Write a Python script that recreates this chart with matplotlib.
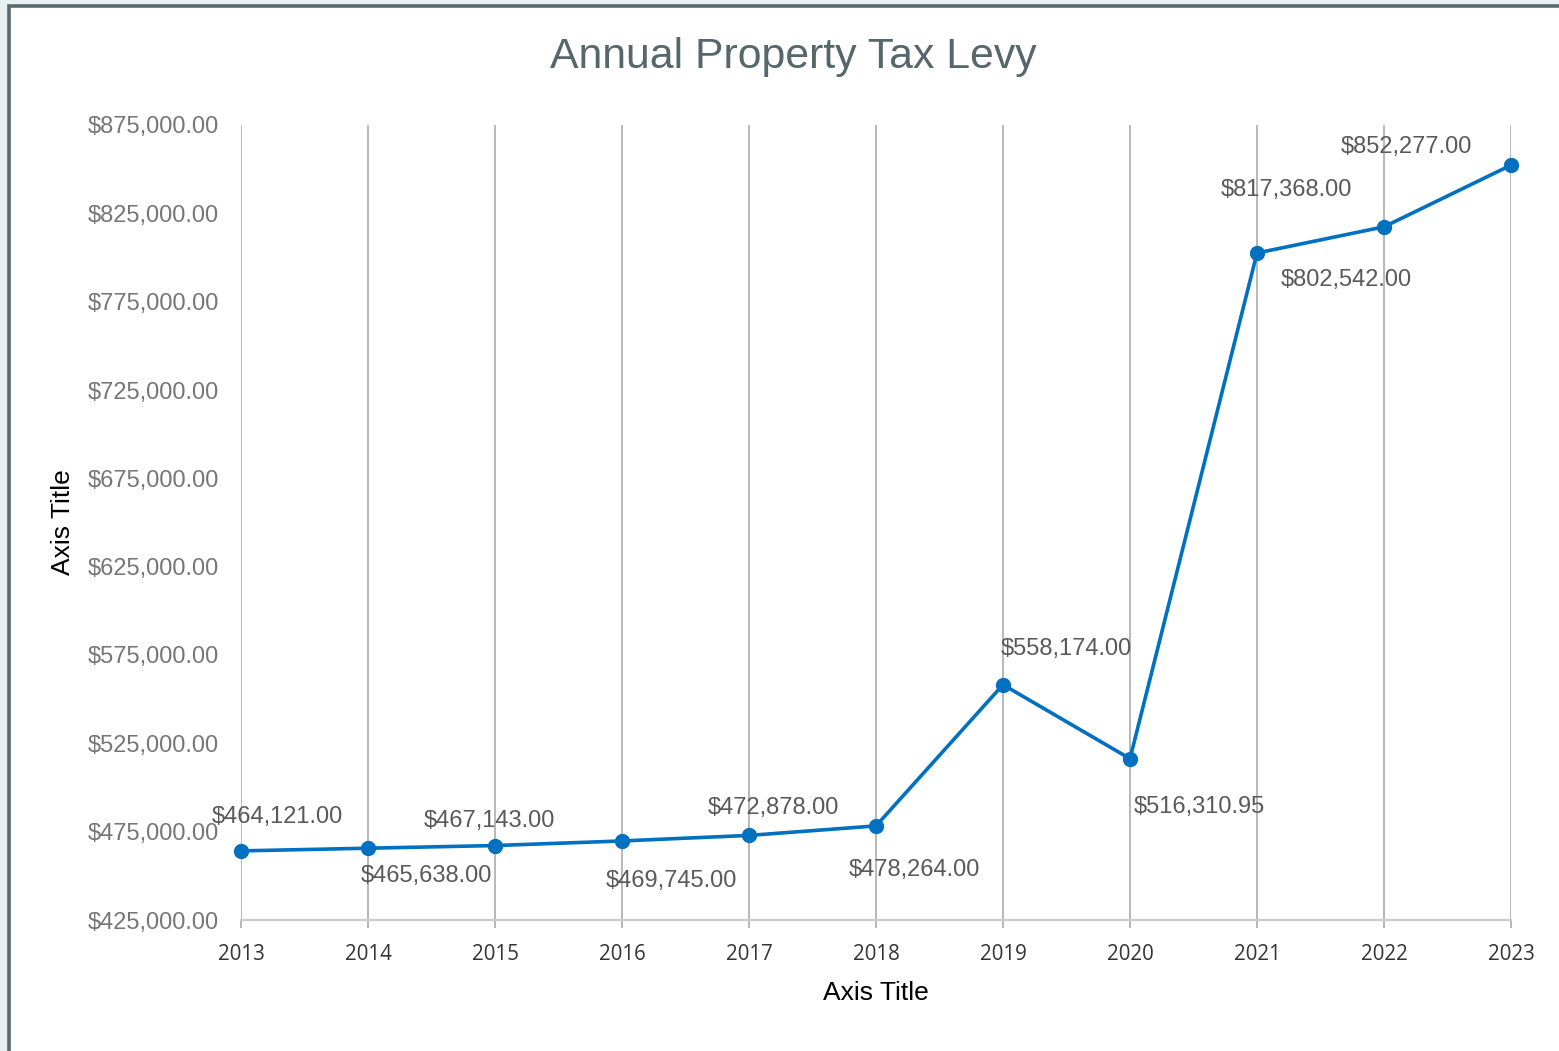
import matplotlib.pyplot as plt
from matplotlib.patches import Rectangle
from matplotlib.ticker import FuncFormatter

years = [2013, 2014, 2015, 2016, 2017, 2018, 2019, 2020, 2021, 2022, 2023]
levy = [464121.00, 465638.00, 467143.00, 469745.00, 472878.00, 478264.00,
        558174.00, 516310.95, 802542.00, 817368.00, 852277.00]
y_ticks = [425000, 475000, 525000, 575000, 625000, 675000, 725000, 775000, 825000, 875000]

# label offsets in pixels (dx, dy), as placed in the original chart
label_offsets = [(36, 34), (58, -28), (-6, 25), (49, -40), (24, 27), (38, -44),
                 (63, 36), (69, -48), (89, -27), (-98, 37), (-105, 18)]

W, H = 1559, 1051
fig = plt.figure(figsize=(W / 100, H / 100), dpi=100)
fig.patch.set_facecolor('#e8f0f2')

# white chart area with dark border on left/top
fig.add_artist(Rectangle((9 / W, -0.02), 1.1, (H - 5.5) / H + 0.02, transform=fig.transFigure,
                         facecolor='white', edgecolor='#5a6b6f', linewidth=2.6, zorder=0))

ax = fig.add_axes([241 / W, 1 - 920 / H, (1511 - 241) / W, (920 - 125) / H])
ax.set_facecolor('none')

ax.plot(years, levy, color='#0070c0', linewidth=2.6, marker='o', markersize=10, zorder=3,
        solid_capstyle='round', clip_on=False)

for x, v, (dx, dy) in zip(years, levy, label_offsets):
    ax.annotate(f'${v:,.2f}', (x, v), xytext=(dx, dy), textcoords='offset pixels',
                ha='center', va='center', fontsize=17, color='#595959',
                family='Liberation Sans', zorder=4)

ax.set_xlim(2013, 2023)
ax.set_ylim(425000, 875000)
ax.set_xticks(years)
ax.set_yticks(y_ticks)
ax.yaxis.set_major_formatter(FuncFormatter(lambda v, p: f'${v:,.2f}'))

ax.grid(axis='x', color='#ababab', linewidth=1.2, zorder=1)
ax.grid(axis='y', visible=False)

for s in ['left', 'right', 'top']:
    ax.spines[s].set_visible(False)
ax.spines['bottom'].set_color('#cccccc')
ax.spines['bottom'].set_linewidth(1.6)

ax.tick_params(axis='y', length=0, pad=16, labelsize=17, labelcolor='#767676')
for t in ax.get_yticklabels():
    t.set_family('Liberation Sans')
ax.tick_params(axis='x', length=6, width=1.2, color='#ababab', pad=11, labelsize=14.8,
               labelcolor='#333333')
for t in ax.get_xticklabels():
    t.set_family('Open Sans')

ax.set_xlabel('Axis Title', fontsize=19, color='black', family='Liberation Sans', labelpad=12)
ax.set_ylabel('Axis Title', fontsize=19, color='black', family='Liberation Sans')
ax.yaxis.set_label_coords((62 + 13 - 241) / (1511 - 241), (920 - 522) / (920 - 125))

fig.text(793 / W, 1 - 57 / H, 'Annual Property Tax Levy', ha='center', va='center',
         fontsize=30.8, color='#56676b', family='Liberation Sans')

fig.savefig('out.png', dpi=100, facecolor=fig.get_facecolor())
